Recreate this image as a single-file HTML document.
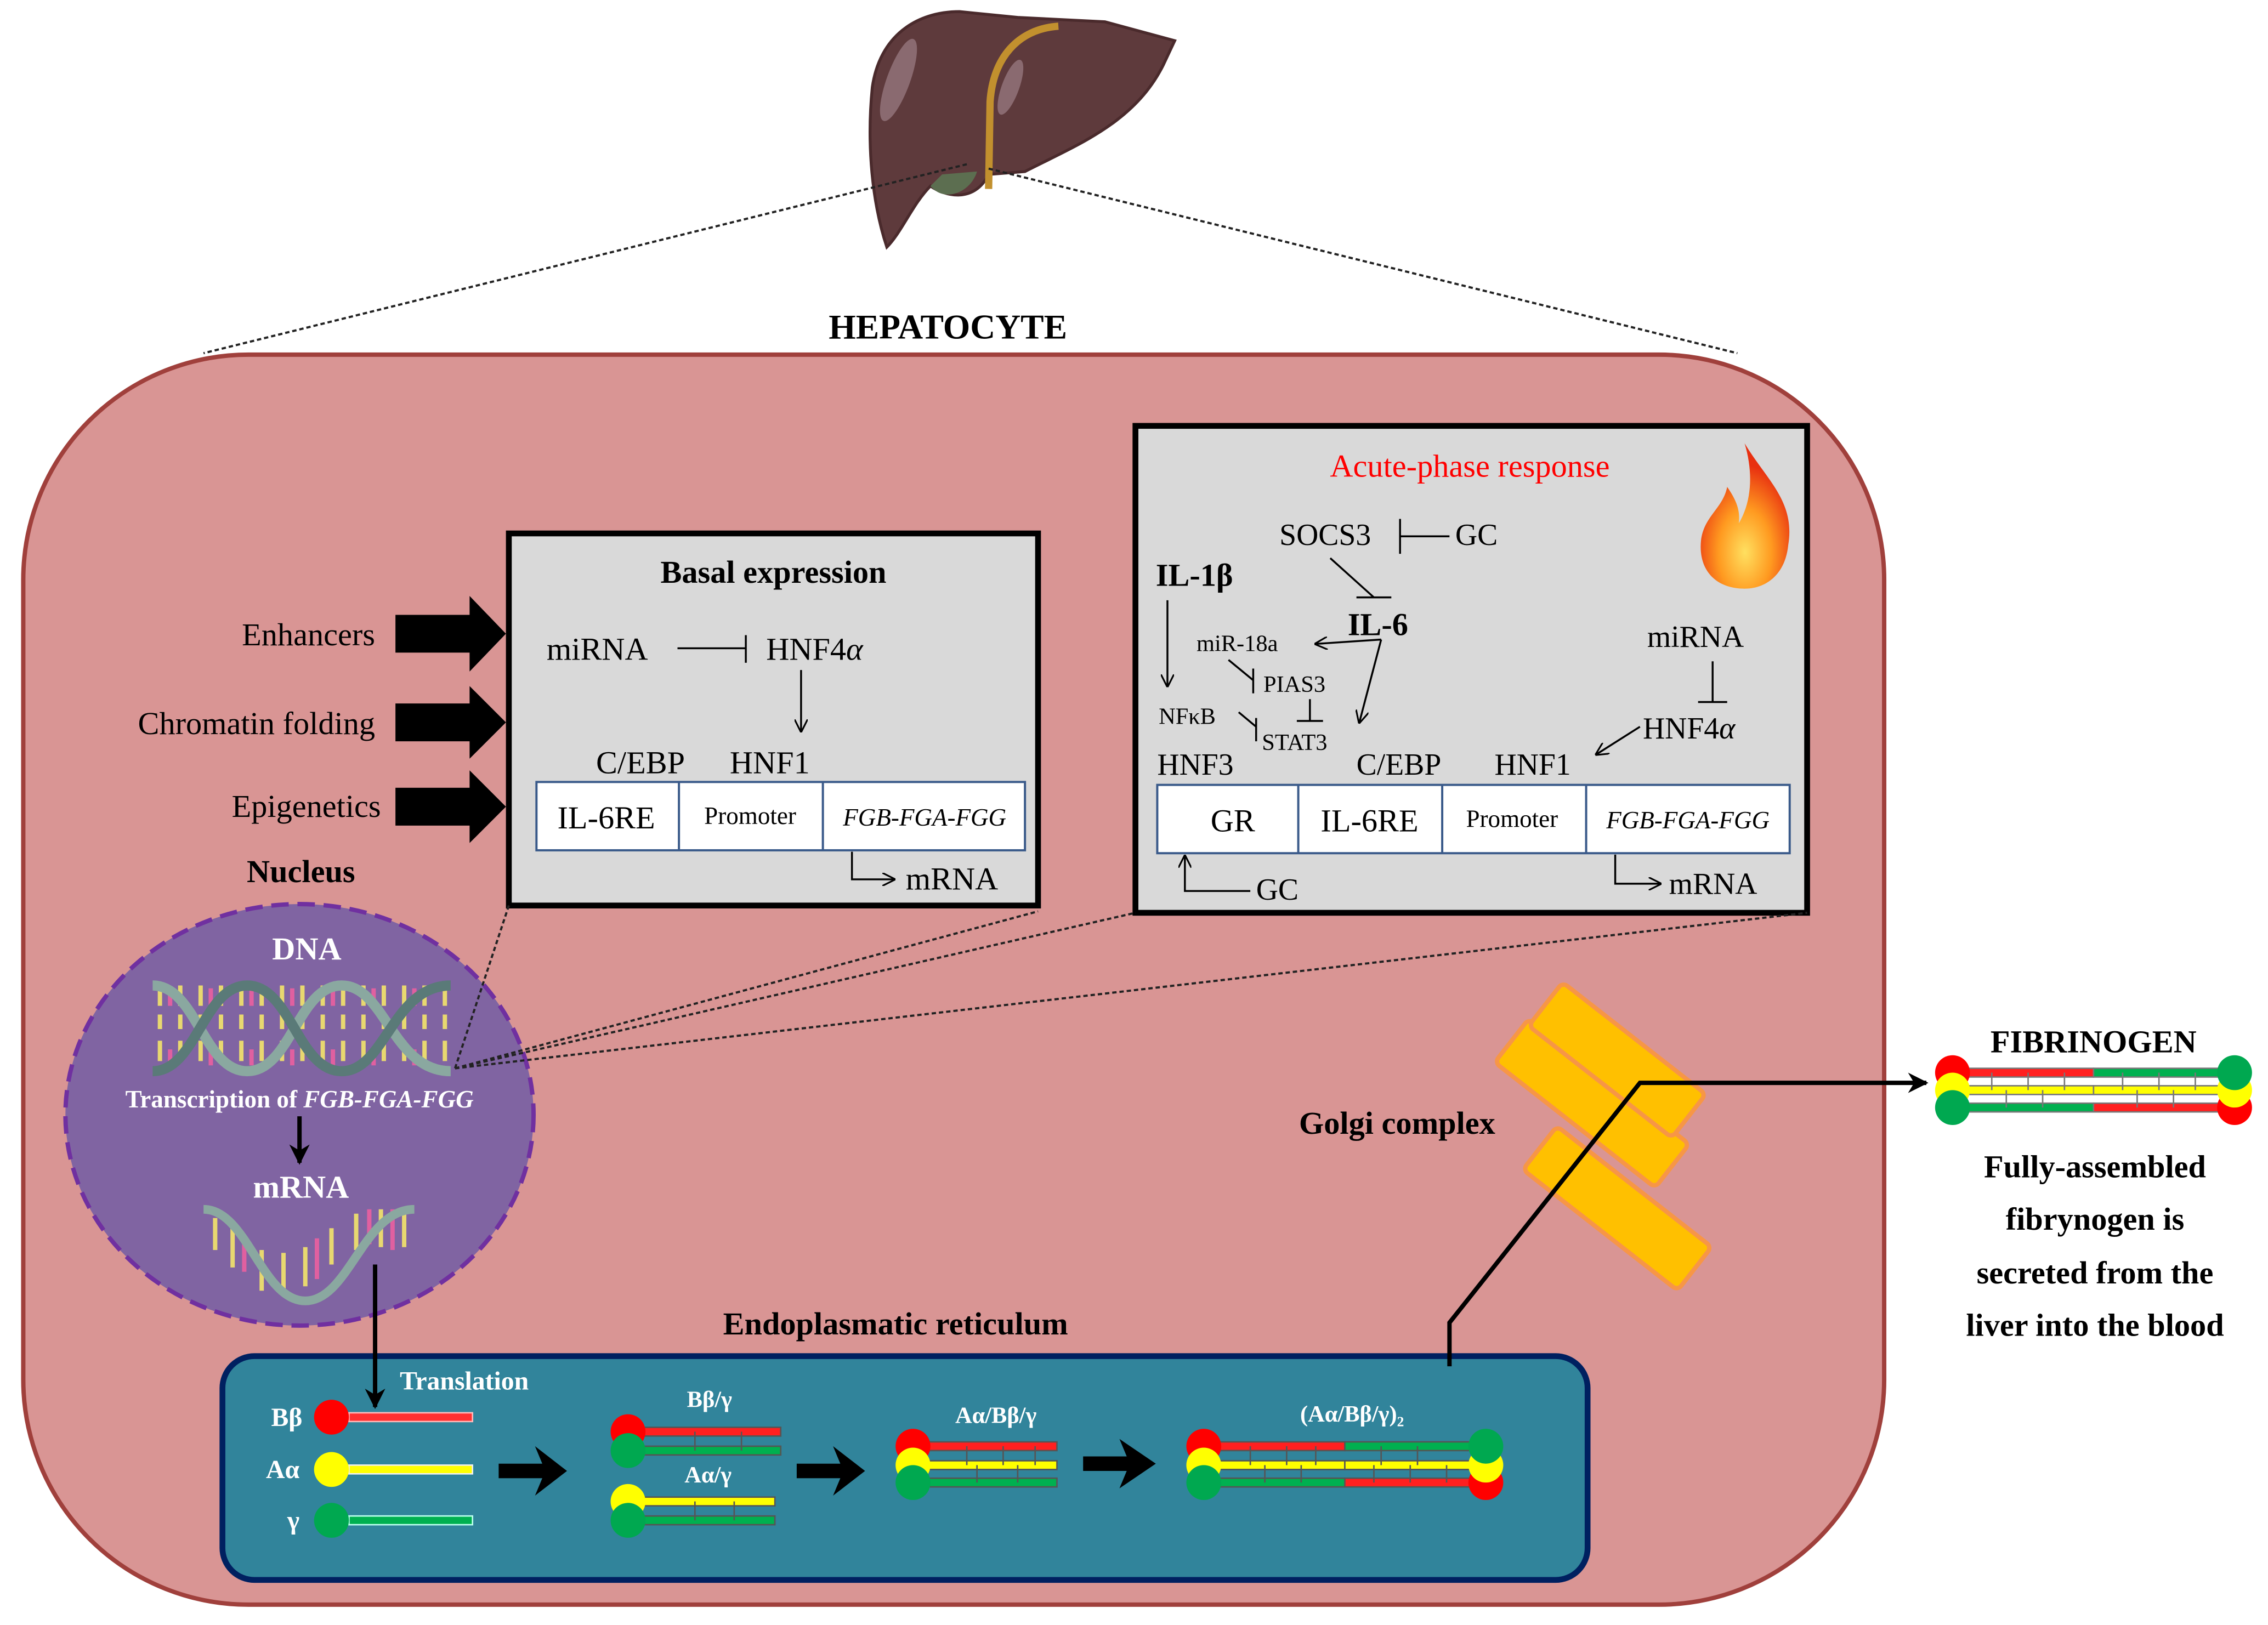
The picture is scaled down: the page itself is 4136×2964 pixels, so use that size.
<!DOCTYPE html>
<html><head><meta charset="utf-8"><style>
html,body{margin:0;padding:0;background:#fff;}
svg{display:block;}
text{font-family:"Liberation Serif",serif;}
</style></head><body>
<svg width="4136" height="2964" viewBox="0 0 1560 1118" preserveAspectRatio="none" xmlns="http://www.w3.org/2000/svg">
<defs>
<marker id="oa" viewBox="0 0 10 10" refX="9" refY="5" markerWidth="9" markerHeight="9" orient="auto" markerUnits="userSpaceOnUse"><path d="M0,0 L10,5 L0,10" fill="none" stroke="#000" stroke-width="1.3"/></marker>
<marker id="sa" viewBox="0 0 10 10" refX="9" refY="5" markerWidth="14" markerHeight="14" orient="auto" markerUnits="userSpaceOnUse"><path d="M0,0 L10,5 L0,10 L3,5z" fill="#000"/></marker>
<radialGradient id="fire" cx="50%" cy="75%" r="60%"><stop offset="0" stop-color="#ffe060"/><stop offset="0.5" stop-color="#ff9a20"/><stop offset="1" stop-color="#e83010"/></radialGradient>
</defs>

<!-- liver -->
<path d="M600,60 C605,25 630,8 660,8 L700,12 L760,15 L808,28 L800,45 C780,85 740,100 705,118 L680,120 C670,140 650,135 640,128 C628,140 620,160 610,170 C600,140 596,100 600,60 Z" fill="#5e3a3c" stroke="#4a2a2c" stroke-width="2"/>
<ellipse cx="618" cy="55" rx="8" ry="30" transform="rotate(20 618 55)" fill="#8a6a70"/>
<ellipse cx="695" cy="60" rx="6" ry="20" transform="rotate(20 695 60)" fill="#8a6a70"/>
<path d="M728,18 C700,20 683,40 681,70 L680,130" fill="none" stroke="#c2902e" stroke-width="5"/>
<path d="M640,128 C650,140 668,132 672,118 L648,120Z" fill="#5c6e50"/>
<!-- dotted lines from liver -->
<path d="M665,113 L140,243 M680,116 L1195,243" stroke="#222" stroke-width="1.5" stroke-dasharray="3,2" fill="none"/>

<text x="652" y="233" font-size="24" font-weight="bold" text-anchor="middle">HEPATOCYTE</text>

<!-- cell -->
<rect x="16" y="244" width="1280" height="860" rx="155" ry="155" fill="#d99594" stroke="#a0403c" stroke-width="3"/>

<!-- big arrows -->
<g fill="#000">
<path d="M272,423 L323,423 L323,410 L348,436 L323,462 L323,449 L272,449Z"/>
<path d="M272,484 L323,484 L323,472 L348,497 L323,522 L323,510 L272,510Z"/>
<path d="M272,542 L323,542 L323,530 L348,555 L323,580 L323,568 L272,568Z"/>
</g>
<text x="258" y="444" font-size="22" text-anchor="end">Enhancers</text>
<text x="258" y="505" font-size="22" text-anchor="end">Chromatin folding</text>
<text x="262" y="562" font-size="22" text-anchor="end">Epigenetics</text>
<text x="207" y="607" font-size="22" font-weight="bold" text-anchor="middle">Nucleus</text>

<!-- basal box -->
<rect x="350" y="367" width="364" height="256" fill="#d9d9d9" stroke="#000" stroke-width="4"/>
<text x="532" y="401" font-size="22" font-weight="bold" text-anchor="middle">Basal expression</text>
<text x="376" y="454" font-size="22">miRNA</text>
<path d="M466,446 L513,446 M513,437 L513,456" stroke="#000" stroke-width="1.3"/>
<text x="527" y="454" font-size="22">HNF4<tspan font-style="italic">α</tspan></text>
<path d="M551,461 L551,503" stroke="#000" stroke-width="1.3" marker-end="url(#oa)"/>
<text x="410" y="532" font-size="22">C/EBP</text>
<text x="502" y="532" font-size="22">HNF1</text>
<rect x="369" y="538" width="336" height="47" fill="#fff" stroke="#3a5a8a" stroke-width="1.5"/>
<path d="M467,538 L467,585 M566,538 L566,585" stroke="#3a5a8a" stroke-width="1.5"/>
<text x="417" y="570" font-size="22" text-anchor="middle">IL-6RE</text>
<text x="516" y="567" font-size="17" text-anchor="middle">Promoter</text>
<text x="636" y="568" font-size="17" font-style="italic" text-anchor="middle">FGB-FGA-FGG</text>
<path d="M586,586 L586,605 L615,605" stroke="#000" stroke-width="1.3" fill="none" marker-end="url(#oa)"/>
<text x="623" y="612" font-size="22">mRNA</text>

<!-- acute box -->
<rect x="781" y="293" width="462" height="335" fill="#d9d9d9" stroke="#000" stroke-width="4"/>
<text x="1011" y="328" font-size="22" fill="#ff0000" text-anchor="middle">Acute-phase response</text>
<path d="M1200,305 C1215,330 1235,345 1230,375 C1228,395 1215,405 1200,405 C1180,405 1168,392 1170,372 C1172,355 1185,350 1188,335 C1195,345 1197,352 1196,360 C1205,345 1206,325 1200,305Z" fill="url(#fire)"/>
<text x="880" y="375" font-size="21">SOCS3</text>
<path d="M963,357 L963,381 M963,369 L997,369" stroke="#000" stroke-width="1.3"/>
<text x="1001" y="375" font-size="21">GC</text>
<text x="795" y="403" font-size="22" font-weight="bold">IL-1β</text>
<path d="M915,384 L945,411 M933,411 L957,411" stroke="#000" stroke-width="1.3"/>
<text x="927" y="437" font-size="22" font-weight="bold">IL-6</text>
<text x="823" y="448" font-size="16">miR-18a</text>
<path d="M950,440 L905,443" stroke="#000" stroke-width="1.3" marker-end="url(#oa)"/>
<path d="M950,440 L935,497" stroke="#000" stroke-width="1.3" marker-end="url(#oa)"/>
<path d="M803,413 L803,472" stroke="#000" stroke-width="1.3" marker-end="url(#oa)"/>
<path d="M845,454 L862,468 M862,460 L862,477" stroke="#000" stroke-width="1.3"/>
<text x="869" y="476" font-size="16">PIAS3</text>
<path d="M901,481 L901,496 M892,496 L910,496" stroke="#000" stroke-width="1.3"/>
<text x="797" y="498" font-size="16">NFκB</text>
<path d="M852,490 L864,500 M864,494 L864,510" stroke="#000" stroke-width="1.3"/>
<text x="868" y="516" font-size="16">STAT3</text>
<text x="1133" y="445" font-size="21">miRNA</text>
<path d="M1178,455 L1178,483 M1168,483 L1188,483" stroke="#000" stroke-width="1.3"/>
<text x="1130" y="508" font-size="21">HNF4<tspan font-style="italic">α</tspan></text>
<path d="M1128,500 L1098,519" stroke="#000" stroke-width="1.3" marker-end="url(#oa)"/>
<text x="796" y="533" font-size="21">HNF3</text>
<text x="933" y="533" font-size="21">C/EBP</text>
<text x="1028" y="533" font-size="21">HNF1</text>
<rect x="796" y="540" width="435" height="47" fill="#fff" stroke="#3a5a8a" stroke-width="1.5"/>
<path d="M893,540 L893,587 M992,540 L992,587 M1091,540 L1091,587" stroke="#3a5a8a" stroke-width="1.5"/>
<text x="848" y="572" font-size="22" text-anchor="middle">GR</text>
<text x="942" y="572" font-size="22" text-anchor="middle">IL-6RE</text>
<text x="1040" y="569" font-size="17" text-anchor="middle">Promoter</text>
<text x="1161" y="570" font-size="17" font-style="italic" text-anchor="middle">FGB-FGA-FGG</text>
<path d="M860,613 L815,613 L815,589" stroke="#000" stroke-width="1.3" fill="none" marker-end="url(#oa)"/>
<text x="864" y="619" font-size="21">GC</text>
<path d="M1111,588 L1111,608 L1142,608" stroke="#000" stroke-width="1.3" fill="none" marker-end="url(#oa)"/>
<text x="1148" y="615" font-size="21">mRNA</text>

<!-- nucleus -->
<ellipse cx="206" cy="767" rx="161" ry="145" fill="#8064a2" stroke="#7030a0" stroke-width="3" stroke-dasharray="12,6"/>
<text x="211" y="660" font-size="22" font-weight="bold" fill="#fff" text-anchor="middle">DNA</text>
<g stroke-width="3">
<path d="M110,678 L110,735 M124,678 L124,735 M138,678 L138,735 M152,678 L152,735 M166,678 L166,735 M180,678 L180,735 M194,678 L194,735 M208,678 L208,735 M222,678 L222,735 M236,678 L236,735 M250,678 L250,735 M264,678 L264,735 M278,678 L278,735 M292,678 L292,735 M306,678 L306,735" stroke="#e8d870" stroke-dasharray="14,6,10,8"/>
<path d="M117,680 L117,733 M145,680 L145,733 M173,680 L173,733 M201,680 L201,733 M229,680 L229,733 M257,680 L257,733 M285,680 L285,733" stroke="#e060a0" stroke-dasharray="12,30"/>
</g>
<path d="M105,678 C135,678 140,737 170,737 C200,737 205,678 235,678 C265,678 270,737 310,737" fill="none" stroke="#8aa8a0" stroke-width="7"/>
<path d="M105,737 C135,737 140,678 170,678 C200,678 205,737 235,737 C265,737 270,678 310,678" fill="none" stroke="#5a7a78" stroke-width="7"/>
<text x="206" y="762" font-size="17" font-weight="bold" fill="#fff" text-anchor="middle">Transcription of <tspan font-style="italic">FGB-FGA-FGG</tspan></text>
<path d="M206,768 L206,800" stroke="#000" stroke-width="3" marker-end="url(#sa)"/>
<text x="207" y="824" font-size="22" font-weight="bold" fill="#fff" text-anchor="middle">mRNA</text>
<g stroke-width="3">
<path d="M148,838 L148,860 M160,845 L160,872 M180,860 L180,888 M195,862 L195,890 M210,858 L210,885 M228,845 L228,870 M245,835 L245,860 M262,832 L262,858 M278,832 L278,858" stroke="#e8d870"/>
<path d="M168,850 L168,875 M218,852 L218,880 M254,832 L254,856 M270,832 L270,860" stroke="#e060a0"/>
</g>
<path d="M140,832 C170,832 180,895 210,895 C240,895 250,832 285,832" fill="none" stroke="#8aa8a0" stroke-width="6"/>

<!-- dotted zoom lines -->
<path d="M313,735 L350,623 M313,735 L714,627 M313,735 L781,628 M313,735 L1243,628" stroke="#222" stroke-width="1.5" stroke-dasharray="3,2" fill="none"/>

<!-- golgi -->
<g fill="#ffc000" stroke="#f79646" stroke-width="3">
<rect x="1025" y="740" width="140" height="38" rx="4" transform="rotate(38 1095 759)"/>
<rect x="1050" y="710" width="125" height="38" rx="4" transform="rotate(38 1112 729)"/>
<rect x="1045" y="812" width="135" height="38" rx="4" transform="rotate(38 1112 831)"/>
</g>
<text x="961" y="780" font-size="22" font-weight="bold" text-anchor="middle">Golgi complex</text>

<!-- ER -->
<rect x="153" y="933" width="939" height="154" rx="22" fill="#31849b" stroke="#002060" stroke-width="4"/>
<text x="616" y="918" font-size="22" font-weight="bold" text-anchor="middle">Endoplasmatic reticulum</text>
<path d="M258,870 L258,968" stroke="#000" stroke-width="3" marker-end="url(#sa)"/>
<text x="275" y="956" font-size="18" font-weight="bold" fill="#fff">Translation</text>
<g font-size="18" font-weight="bold" fill="#fff" text-anchor="end">
<text x="208" y="981">Bβ</text><text x="206" y="1017">Aα</text><text x="206" y="1052">γ</text>
</g>
<!-- monomers -->
<rect x="240" y="972" width="85" height="6" fill="#ff3030" stroke="#fbb" stroke-width="1"/>
<circle cx="228" cy="975" r="12" fill="#ff0000"/>
<rect x="240" y="1008" width="85" height="6" fill="#ffff00" stroke="#eee" stroke-width="1"/>
<circle cx="228" cy="1011" r="12" fill="#ffff00"/>
<rect x="240" y="1043" width="85" height="6" fill="#00b050" stroke="#bfe" stroke-width="1"/>
<circle cx="228" cy="1046" r="12" fill="#00a850"/>
<!-- arrows -->
<g fill="#000">
<path d="M343,1007 L373,1007 L368,995 L390,1012 L368,1029 L373,1017 L343,1017Z"/>
<path d="M548,1007 L578,1007 L573,995 L595,1012 L573,1029 L578,1017 L548,1017Z"/>
<path d="M745,1002 L775,1002 L770,990 L795,1007 L770,1024 L775,1012 L745,1012Z"/>
</g>
<!-- dimers -->
<g font-size="16" font-weight="bold" fill="#fff" text-anchor="middle">
<text x="488" y="968">Bβ/γ</text><text x="487" y="1020">Aα/γ</text><text x="685" y="979">Aα/Bβ/γ</text><text x="930" y="978">(Aα/Bβ/γ)₂</text>
</g>
<g stroke="#555" stroke-width="1">
<rect x="440" y="982" width="97" height="6" fill="#ff2020"/><rect x="440" y="995" width="97" height="6" fill="#00b050"/>
<path d="M478,985 L478,998 M510,985 L510,998"/>
<rect x="440" y="1030" width="93" height="6" fill="#ffff00"/><rect x="440" y="1043" width="93" height="6" fill="#00b050"/>
<path d="M478,1033 L478,1046 M505,1033 L505,1046"/>
<rect x="635" y="992" width="92" height="6" fill="#ff2020"/><rect x="635" y="1005" width="92" height="6" fill="#ffff00"/><rect x="635" y="1017" width="92" height="6" fill="#00b050"/>
<path d="M665,995 L665,1008 M690,995 L690,1008 M712,995 L712,1008 M672,1008 L672,1020 M700,1008 L700,1020"/>
<rect x="835" y="992" width="90" height="6" fill="#ff2020"/><rect x="835" y="1005" width="90" height="6" fill="#ffff00"/><rect x="835" y="1017" width="90" height="6" fill="#00b050"/>
<rect x="925" y="992" width="90" height="6" fill="#00b050"/><rect x="925" y="1005" width="90" height="6" fill="#ffff00"/><rect x="925" y="1017" width="90" height="6" fill="#ff2020"/>
<path d="M860,995 L860,1008 M885,995 L885,1008 M905,995 L905,1008 M870,1008 L870,1020 M895,1008 L895,1020 M950,995 L950,1008 M975,995 L975,1008 M945,1008 L945,1020 M970,1008 L970,1020 M995,1008 L995,1020"/>
</g>
<circle cx="432" cy="985" r="12" fill="#ff0000"/><circle cx="432" cy="998" r="12" fill="#00a850"/>
<circle cx="432" cy="1033" r="12" fill="#ffff00"/><circle cx="432" cy="1046" r="12" fill="#00a850"/>
<circle cx="628" cy="995" r="12" fill="#ff0000"/><circle cx="628" cy="1008" r="12" fill="#ffff00"/><circle cx="628" cy="1020" r="12" fill="#00a850"/>
<circle cx="828" cy="995" r="12" fill="#ff0000"/><circle cx="828" cy="1008" r="12" fill="#ffff00"/><circle cx="828" cy="1020" r="12" fill="#00a850"/>
<circle cx="1022" cy="1020" r="12" fill="#ff0000"/><circle cx="1022" cy="1008" r="12" fill="#ffff00"/><circle cx="1022" cy="995" r="12" fill="#00a850"/>

<!-- secretion route -->
<path d="M997,940 L997,910 L1128,745 L1325,745" fill="none" stroke="#000" stroke-width="3" marker-end="url(#sa)"/>

<!-- fibrinogen -->
<text x="1440" y="724" font-size="22" font-weight="bold" text-anchor="middle">FIBRINOGEN</text>
<g stroke="#777" stroke-width="1">
<rect x="1350" y="735" width="90" height="6" fill="#ff2020"/><rect x="1350" y="747" width="90" height="6" fill="#ffff00"/><rect x="1350" y="759" width="90" height="6" fill="#00b050"/>
<rect x="1440" y="735" width="92" height="6" fill="#00b050"/><rect x="1440" y="747" width="92" height="6" fill="#ffff00"/><rect x="1440" y="759" width="92" height="6" fill="#ff2020"/>
<path d="M1370,738 L1370,750 M1395,738 L1395,750 M1420,738 L1420,750 M1380,750 L1380,762 M1405,750 L1405,762 M1460,738 L1460,750 M1485,738 L1485,750 M1510,738 L1510,750 M1470,750 L1470,762 M1495,750 L1495,762"/>
</g>
<circle cx="1343" cy="738" r="12" fill="#ff0000"/><circle cx="1343" cy="750" r="12" fill="#ffff00"/><circle cx="1343" cy="762" r="12" fill="#00a850"/>
<circle cx="1537" cy="762" r="12" fill="#ff0000"/><circle cx="1537" cy="750" r="12" fill="#ffff00"/><circle cx="1537" cy="738" r="12" fill="#00a850"/>
<g font-size="22" font-weight="bold" text-anchor="middle">
<text x="1441" y="810">Fully-assembled</text>
<text x="1441" y="846">fibrynogen is</text>
<text x="1441" y="883">secreted from the</text>
<text x="1441" y="919">liver into the blood</text>
</g>
</svg>
</body></html>
